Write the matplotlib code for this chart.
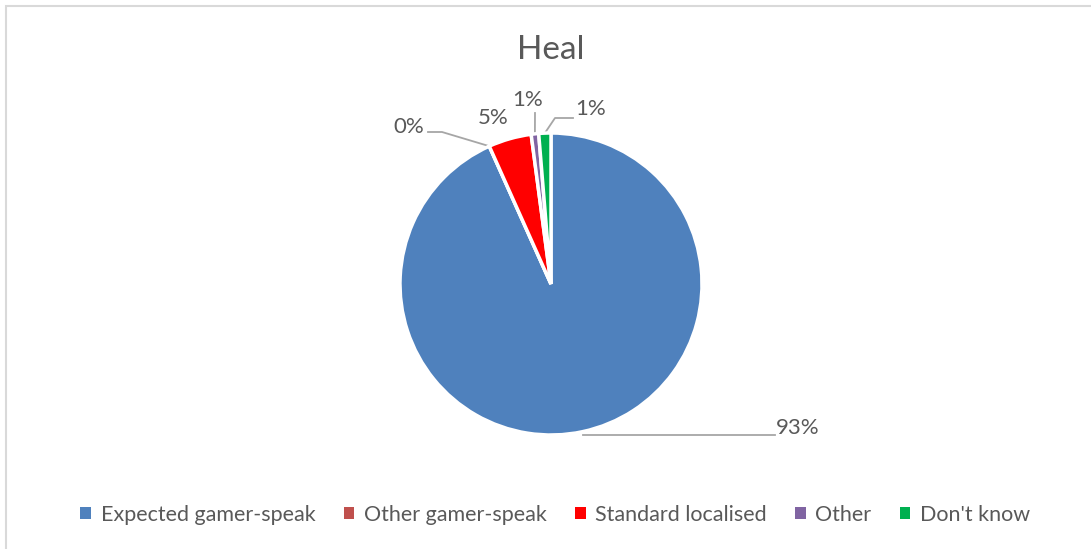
import matplotlib.pyplot as plt
import numpy as np
from matplotlib.patches import Rectangle

plt.rcParams['font.family'] = ['Lato', 'DejaVu Sans']

# Survey answers for the term "Heal"
categories = ['Expected gamer-speak', 'Other gamer-speak', 'Standard localised', 'Other', "Don't know"]
shares = [93.3, 0.0, 4.6, 0.8, 1.3]
colors = ['#4f81bd', '#c0504d', '#ff0000', '#8064a2', '#00b050']

W, H = 1091, 549
fig = plt.figure(figsize=(W / 100, H / 100), dpi=100)
ax = fig.add_axes([0, 0, 1, 1])

# chart frame (right and bottom edges run off the canvas)
ax.add_patch(Rectangle((6, -20), W + 20, H - 6 + 20, fill=False,
                       edgecolor='#d9d9d9', linewidth=1.5))

cx, cy, r = 551, 265, 151
wedges, _ = ax.pie(shares, colors=colors, startangle=90, counterclock=False,
                   center=(cx, cy), radius=r, frame=True,
                   wedgeprops=dict(edgecolor='white', linewidth=2.5))
ax.set_xlim(0, W)
ax.set_ylim(0, H)
ax.set_aspect('equal')
ax.axis('off')

text_color = '#595959'
line_color = '#a6a6a6'


def edge_point(w):
    ang = np.deg2rad((w.theta1 + w.theta2) / 2)
    return cx + r * np.cos(ang), cy + r * np.sin(ang)


# label centres and leader-line elbows, in canvas pixels from the top
label_pos = [
    (798, 428, (775, 435)),
    (409, 127, (442, 132)),
    (493, 118, None),
    (528, 100, (535, 113)),
    (591, 109, (555, 118)),
]
for i, (w, val, (tx, ty, elbow)) in enumerate(zip(wedges, shares, label_pos)):
    ax.text(tx, H - ty, f'{round(val):.0f}%', ha='center', va='center',
            fontsize=16, color=text_color)
    if elbow is None:
        continue
    ex, ey = elbow[0], H - elbow[1]
    px, py = edge_point(w)
    if i == 0:
        xs, ys = [cx + 32, ex], [cy - r, ey]
    elif i == 1:
        xs, ys = [px, ex, 428], [py, ey, ey]
    elif i == 4:
        xs, ys = [px, ex, 573], [py, ey, ey]
    else:
        xs, ys = [px, ex], [py, ey]
    ax.plot(xs, ys, color=line_color, linewidth=1.3, zorder=0)

ax.text(551, H - 50, 'Heal', ha='center', va='center', fontsize=24, color=text_color)

handles = [Rectangle((0, 0), 1, 1, facecolor=c) for c in colors]
fig.legend(handles, categories, loc='center', bbox_to_anchor=(0.509, 1 - 515 / H),
           ncol=5, frameon=False, fontsize=15.5, labelcolor=text_color,
           handlelength=0.5, handleheight=0.5, handletextpad=0.45, columnspacing=1.3)

fig.savefig('out.png', dpi=100)
